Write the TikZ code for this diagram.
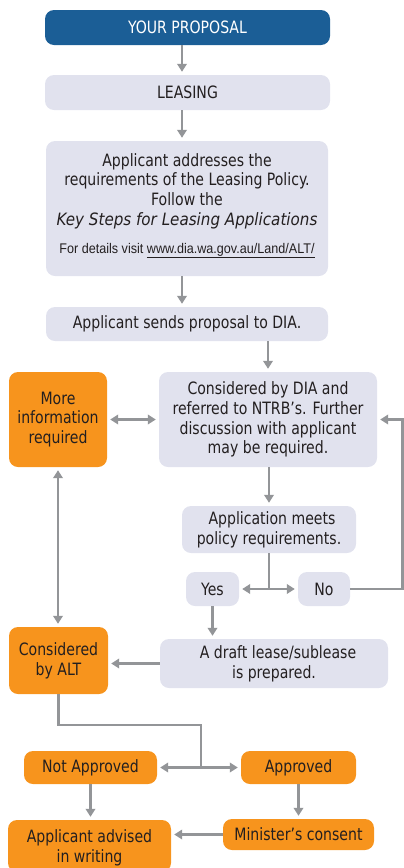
\documentclass[tikz,border=0pt]{standalone}
\usepackage{fontspec}
\setmainfont[FakeStretch=0.92]{DejaVu Sans Condensed}
\newfontfamily\keyfont[FakeStretch=0.99]{DejaVu Sans Condensed}
\newfontfamily\urlfont[FakeStretch=0.9]{Liberation Sans}
\usetikzlibrary{arrows.meta,calc}
\definecolor{boxgrey}{HTML}{E1E2EE}
\definecolor{boxblue}{HTML}{1B5E96}
\definecolor{boxorange}{HTML}{F7941D}
\definecolor{linegrey}{HTML}{939598}
\definecolor{txt}{HTML}{231F20}
\tikzset{
  base/.style={rounded corners=9pt, inner sep=0pt, align=center, text=txt,
    font=\fontsize{17}{19.8}\selectfont},
  gbox/.style={base, fill=boxgrey},
  obox/.style={base, fill=boxorange},
  bbox/.style={base, fill=boxblue, text=white},
  conn/.style={draw=linegrey, line width=2.6pt},
  arr/.style={conn, -{Triangle[length=8pt,width=9.5pt]}, shorten >=3pt},
  darr/.style={conn, {Triangle[length=8pt,width=9.5pt]}-{Triangle[length=8pt,width=9.5pt]}, shorten >=3pt, shorten <=3pt},
}
\begin{document}
\begin{tikzpicture}[x=1pt,y=-1pt]
\useasboundingbox (0,0) rectangle (404,868);
\node[bbox, minimum width=285, minimum height=35] (prop) at (187.5,27.5) {YOUR PROPOSAL};
\node[gbox, minimum width=285, minimum height=35] (leasing) at (187.5,92.5) {LEASING};
\node[gbox, minimum width=282, minimum height=135] (addr) at (187,208.5) {};
\node[base, anchor=north] (addrtxt) at (187,153) {Applicant addresses the\\requirements of the Leasing Policy.\\Follow the\\{\keyfont\itshape Key Steps for Leasing Applications}\\[8pt]{\urlfont\fontsize{14}{16}\selectfont For details visit \underline{www.dia.wa.gov.au/Land/ALT/}}};
\node[gbox, minimum width=282, minimum height=34] (sends) at (187,324) {Applicant sends proposal to DIA.};
\node[obox, minimum width=98, minimum height=95] (more) at (58,419.5) {More\\information\\required};
\node[gbox, minimum width=218, minimum height=95] (dia) at (268,419.5) {Considered by DIA and\\referred to NTRB's. Further\\discussion with applicant\\may be required.};
\node[gbox, minimum width=174, minimum height=47] (meets) at (269,529.5) {\hspace*{6pt}Application meets\\policy requirements.};
\node[gbox, minimum width=53, minimum height=34] (yes) at (212.5,589) {Yes};
\node[gbox, minimum width=52, minimum height=34] (no) at (324,589) {No};
\node[obox, minimum width=99, minimum height=67] (alt) at (58.5,660.5) {Considered\\by ALT};
\node[gbox, minimum width=228, minimum height=49] (draft) at (274,663.5) {\hspace*{8pt}A draft lease/sublease\\is prepared.};
\node[obox, minimum width=133, minimum height=33] (notapp) at (90.5,767.5) {Not Approved};
\node[obox, minimum width=115, minimum height=33] (app) at (298.5,767.5) {Approved};
\node[obox, minimum width=163, minimum height=52, text depth=0pt] (advised) at (89.5,846) {Applicant advised\\in writing};
\node[obox, minimum width=151, minimum height=31] (minister) at (298.5,834.5) {Minister's consent};
\coordinate (c1) at (182,0);
\coordinate (rt) at (402.5,0);
\coordinate (br) at (201,725);
\draw[arr] (c1 |- prop.south) -- (c1 |- leasing.north);
\draw[arr] (c1 |- leasing.south) -- (c1 |- addr.north);
\draw[arr] (c1 |- addr.south) -- (c1 |- sends.north);
\draw[arr] (dia.north |- sends.south) -- (dia.north);
\draw[darr] (more.east |- dia.west) -- (dia.west);
\draw[arr] (dia.south -| meets.north) -- (meets.north);
\draw[conn] (meets.south) -- (meets.south |- yes.east);
\draw[darr] (yes.east) -- (no.west);
\draw[arr] (no.east) -- (rt |- no.east) -- (rt |- dia.east) -- (dia.east);
\draw[arr] (yes.south) -- (yes.south |- draft.north);
\draw[arr] (draft.west) -- (alt.east |- draft.west);
\draw[darr] (more.south) -- (more.south |- alt.north);
\draw[conn] (alt.south) |- (br) -- (br |- notapp.east);
\draw[darr] (notapp.east) -- (app.west);
\draw[arr] (notapp.south) -- (notapp.south |- advised.north);
\draw[arr] (app.south) -- (app.south |- minister.north);
\draw[arr] (minister.west) -- (advised.east |- minister.west);
\end{tikzpicture}
\end{document}
